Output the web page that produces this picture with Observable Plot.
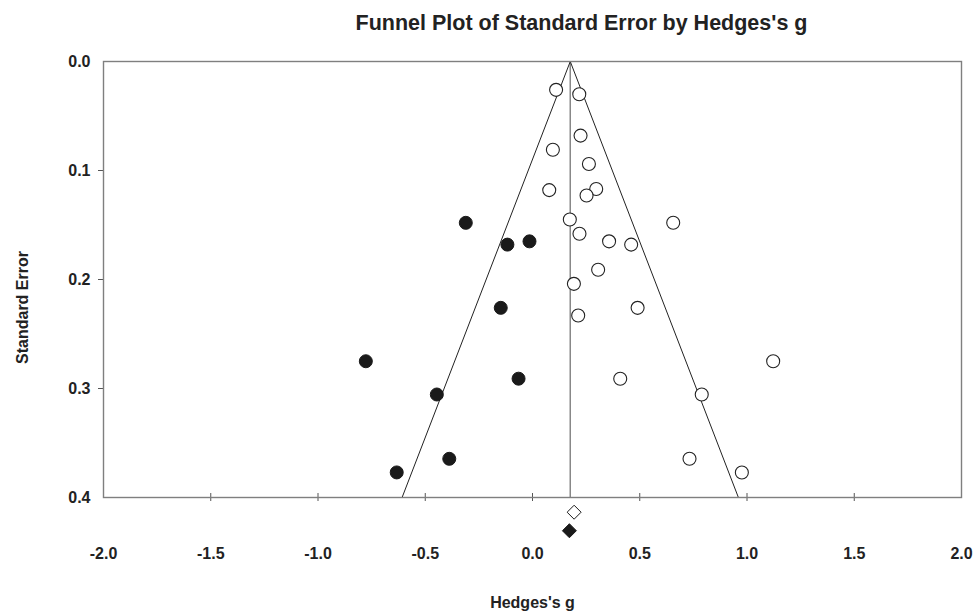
<!DOCTYPE html>
<html><head><meta charset="utf-8">
<script src="https://cdn.jsdelivr.net/npm/d3@7"></script>
<script src="https://cdn.jsdelivr.net/npm/@observablehq/plot@0.6"></script>
<style>body{margin:0;background:#fff}</style>
</head><body><div id="chart"></div>
<script>
// Observed studies (open circles)
const observedG  = [0.110, 0.218, 0.224, 0.095, 0.263, 0.078, 0.297, 0.252, 0.174, 0.656, 0.219, 0.357, 0.460, 0.306, 0.193, 0.490, 0.213, 0.409, 0.789, 1.122, 0.732, 0.976];
const observedSE = [0.026, 0.030, 0.068, 0.081, 0.094, 0.118, 0.117, 0.123, 0.145, 0.148, 0.158, 0.165, 0.168, 0.191, 0.204, 0.226, 0.233, 0.291, 0.3055, 0.275, 0.3645, 0.377];
// Imputed studies (filled circles)
const imputedG  = [-0.311, -0.117, -0.014, -0.148, -0.065, -0.446, -0.777, -0.388, -0.633];
const imputedSE = [0.148, 0.168, 0.165, 0.226, 0.291, 0.3055, 0.275, 0.3645, 0.377];
// Summary effects (diamonds): observed, adjusted
const summaryG = [0.194, 0.172];
const summaryRow = [0.4135, 0.4305];
const summaryFilled = [false, true];
// Funnel
const funnelCenter = 0.176;
const funnelMaxSE = 0.4;
// Axes
const xTicks = [-2.0, -1.5, -1.0, -0.5, 0.0, 0.5, 1.0, 1.5, 2.0];
const yTicks = [0.0, 0.1, 0.2, 0.3, 0.4];
const title = "Funnel Plot of Standard Error by Hedges's g";
const xLabel = "Hedges's g";
const yLabel = "Standard Error";

const observed = observedG.map((g, i) => ({g, se: observedSE[i]}));
const imputed = imputedG.map((g, i) => ({g, se: imputedSE[i]}));
const summary = summaryG.map((g, i) => ({g, se: summaryRow[i], filled: summaryFilled[i]}));
const leftLine = [{g: funnelCenter, se: 0}, {g: funnelCenter - 1.96 * funnelMaxSE, se: funnelMaxSE}];
const rightLine = [{g: funnelCenter, se: 0}, {g: funnelCenter + 1.96 * funnelMaxSE, se: funnelMaxSE}];

const font = "'Liberation Sans', Arial, Helvetica, sans-serif";
const txt = {fontWeight: "bold", fill: "#222", fontSize: 16};

const chart = Plot.plot({
  width: 973, height: 615,
  marginLeft: 103, marginRight: 12, marginTop: 61, marginBottom: 118,
  x: {domain: [-2, 2], axis: null},
  y: {domain: [0, 0.4], reverse: true, axis: null},
  style: {fontFamily: font, background: "white", overflow: "visible"},
  marks: [
    Plot.ruleX(xTicks.slice(1, -1), {x: d => d, y1: 0.4, y2: 0.4, insetTop: -4, insetBottom: -4, stroke: "#555", strokeWidth: 1}),
    Plot.ruleY(yTicks.slice(1, -1), {y: d => d, x1: -2, x2: -2, insetLeft: -5, stroke: "#555", strokeWidth: 1}),
    Plot.ruleX([funnelCenter], {x: d => d, y1: 0, y2: funnelMaxSE, stroke: "#888", strokeWidth: 1.5}),
    Plot.line(leftLine, {x: "g", y: "se", stroke: "#222", strokeWidth: 1}),
    Plot.line(rightLine, {x: "g", y: "se", stroke: "#222", strokeWidth: 1}),
    Plot.frame({stroke: "#7f7f7f", strokeWidth: 1.4}),
    Plot.dot(observed, {x: "g", y: "se", r: 6.5, fill: "white", stroke: "#222", strokeWidth: 1.1}),
    Plot.dot(imputed, {x: "g", y: "se", r: 6.5, fill: "#1a1a1a", stroke: "#1a1a1a", strokeWidth: 1}),
    Plot.dot(summary, {x: "g", y: "se", symbol: "diamond2", r: 6.3, fill: d => d.filled ? "#1a1a1a" : "white", stroke: "#1a1a1a", strokeWidth: 1}),
    Plot.text(xTicks, {x: d => d, text: d => d.toFixed(1), frameAnchor: "bottom", dy: 61, lineAnchor: "bottom", ...txt}),
    Plot.text(yTicks, {y: d => d, text: d => d.toFixed(1), frameAnchor: "left", dx: -13, textAnchor: "end", lineAnchor: "middle", ...txt}),
    Plot.text([title], {frameAnchor: "top", textAnchor: "middle", dx: 49, dy: -32, lineAnchor: "bottom", ...txt, fontSize: 21.5}),
    Plot.text([xLabel], {frameAnchor: "bottom", textAnchor: "middle", dy: 110, lineAnchor: "bottom", ...txt}),
    Plot.text([yLabel], {frameAnchor: "left", textAnchor: "middle", rotate: -90, dx: -76, dy: 28, lineAnchor: "bottom", ...txt})
  ]
});
document.getElementById("chart").appendChild(chart);
</script>
</body></html>
